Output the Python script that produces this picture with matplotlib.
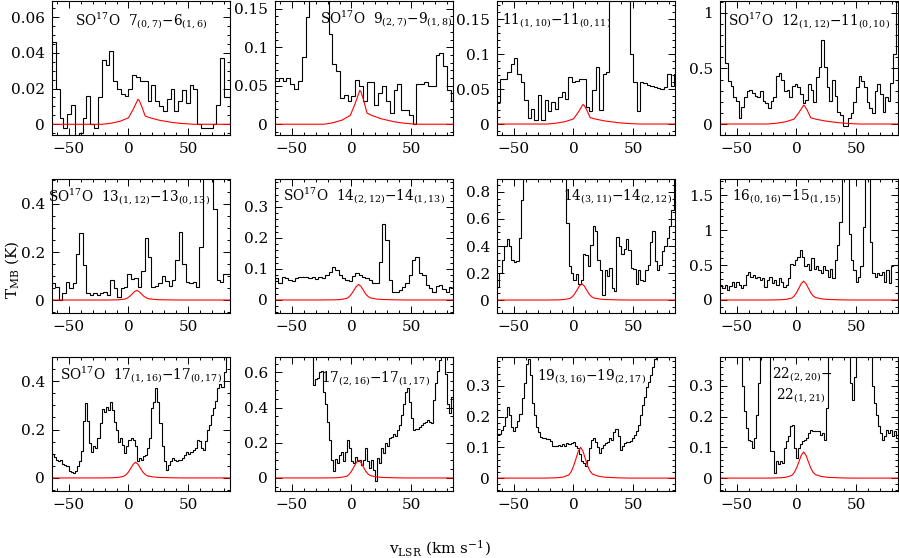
import numpy as np
import matplotlib
matplotlib.use("Agg")
import matplotlib.pyplot as plt
from matplotlib.ticker import MultipleLocator, AutoMinorLocator, FuncFormatter

plt.rcParams["font.family"] = "DejaVu Serif"
plt.rcParams["mathtext.fontset"] = "dejavuserif"

XLIM = (-64, 85)

# observed spectra: first channel edge, channel width (km/s), T_MB per channel (K)
p1_v0, p1_dv = -64, 3.2
p1_t = [0.046, 0.02, 0.0036, -0.002, 0.0055, 0.011, -0.007, -0.005, 0.0036, 0.016,
        0.0, -0.002, 0.015, 0.036, 0.033, 0.041, 0.024, 0.02, 0.017, 0.016,
        0.02, 0.0275, 0.0265, 0.0245, 0.0245, 0.013, 0.022, 0.013, 0.010, 0.0074,
        0.014, 0.02, 0.0074, 0.013, 0.019, 0.012, 0.022, 0.02, 0.0, -0.002,
        -0.002, -0.002, 0.0, 0.011, 0.037, 0.015, 0.015]

p2_v0, p2_dv = -64, 3.2
p2_t = [0.056, 0.06, 0.056, 0.06, 0.052, 0.046, 0.056, 0.087, 0.139, 0.2,
        0.2, 0.2, 0.2, 0.2, 0.117, 0.078, 0.069, 0.034, 0.038, 0.03,
        0.036, 0.058, 0.05, 0.03, 0.055, 0.055, 0.025, 0.04, 0.05, 0.03,
        0.015, 0.045, 0.052, 0.018, 0.018, 0.012, 0.0, 0.052, 0.052, 0.055,
        0.05, 0.05, 0.09, 0.093, 0.075, 0.045, 0.03]

p3_v0, p3_dv = -64, 2.85
p3_t = [0.032, 0.064, 0.065, 0.074, 0.086, 0.095, 0.071, 0.06, 0.034, 0.008,
        0.022, 0.006, 0.041, 0.006, 0.034, 0.018, 0.032, 0.022, 0.039, 0.046,
        0.036, 0.067, 0.06, 0.062, 0.065, 0.065, 0.025, 0.018, 0.048, 0.081,
        0.02, 0.071, 0.074, 0.2, 0.2, 0.2, 0.2, 0.2, 0.2, 0.1,
        0.06, 0.018, 0.06, 0.058, 0.056, 0.055, 0.053, 0.052, 0.05, 0.053,
        0.071, 0.055, 0.071]

p4_v0, p4_dv = -64, 2.23
p4_t = [1.3, 1.3, 0.55, 0.39, 0.34, 0.24, 0.21, 0.05, 0.15, 0.24,
        0.3, 0.31, 0.28, 0.25, 0.24, 0.3, 0.21, 0.19, 0.145, 0.21,
        0.24, 0.43, 0.46, 0.4, 0.3, 0.31, 0.24, 0.34, 0.36, 0.33,
        0.27, 0.19, 0.22, 0.36, 0.31, 0.2, 0.42, 0.51, 0.76, 0.51,
        0.33, 0.21, 0.4, 0.25, 0.11, 0.085, -0.02, -0.02, 0.05, 0.1,
        0.2, 0.33, 0.43, 0.39, 0.33, 0.2, 0.145, 0.1, 0.3, 0.36,
        0.27, 0.11, 0.24, 0.21, 0.37, 0.63, 1.3]

p5_v0, p5_dv = -64, 2.87
p5_t = [0.07, 0.056, 0.0, 0.03, 0.077, 0.05, 0.07, 0.19, 0.28, 0.146,
        0.03, 0.02, 0.03, 0.02, 0.03, 0.035, 0.02, 0.083, 0.05, 0.014,
        0.05, 0.056, 0.11, 0.086, 0.09, 0.056, 0.12, 0.26, 0.18, 0.056,
        0.06, 0.07, 0.1, 0.08, 0.06, 0.083, 0.167, 0.285, 0.15, 0.077,
        0.07, 0.077, 0.056, 0.22, 0.6, 0.6, 0.6, 0.38, 0.083, 0.077,
        0.11, 0.11]

p6_v0, p6_dv = -64, 2.8
p6_t = [0.07, 0.054, 0.075, 0.07, 0.065, 0.06, 0.07, 0.075, 0.075, 0.073,
        0.07, 0.073, 0.067, 0.073, 0.07, 0.08, 0.09, 0.105, 0.097, 0.08,
        0.07, 0.065, 0.06, 0.078, 0.086, 0.08, 0.075, 0.07, 0.065, 0.056,
        0.054, 0.124, 0.246, 0.194, 0.065, 0.027, 0.027, 0.032, 0.043, 0.054,
        0.08, 0.13, 0.138, 0.086, 0.08, 0.049, 0.038, 0.027, 0.045, 0.049,
        0.035, 0.027, 0.043]

p7_v0, p7_dv = -64, 2.0
p7_t = [0.1, 0.2, 0.3, 0.4, 0.45, 0.4, 0.3, 0.28, 0.29, 0.46,
        0.74, 1.0, 1.0, 1.0, 1.0, 1.0, 1.0, 1.0, 1.0, 1.0,
        1.0, 1.0, 1.0, 1.0, 1.0, 1.0, 1.0, 1.0, 1.0, 0.57,
        0.25, 0.2, 0.15, 0.19, 0.115, 0.15, 0.34, 0.33, 0.25, 0.41,
        0.55, 0.51, 0.3, 0.225, 0.04, 0.225, 0.18, 0.24, 0.09, 0.066,
        0.47, 0.4, 0.34, 0.38, 0.45, 0.37, 0.24, 0.23, 0.115, 0.225,
        0.15, 0.14, 0.225, 0.26, 0.43, 0.51, 0.29, 0.225, 0.26, 0.36,
        0.4, 0.46, 0.55, 0.67, 0.95]

p8_v0, p8_dv = -64, 1.96
p8_t = [0.21, 0.17, 0.21, 0.14, 0.2, 0.26, 0.19, 0.26, 0.21, 0.17,
        0.21, 0.36, 0.4, 0.33, 0.36, 0.31, 0.33, 0.29, 0.31, 0.19,
        0.29, 0.33, 0.24, 0.29, 0.21, 0.31, 0.26, 0.19, 0.21, 0.31,
        0.52, 0.5, 0.57, 0.62, 0.72, 0.62, 0.48, 0.52, 0.43, 0.6,
        0.45, 0.48, 0.43, 0.38, 0.48, 0.43, 0.33, 0.45, 0.31, 0.57,
        0.79, 1.12, 1.9, 1.9, 1.9, 0.95, 0.57, 0.43, 0.26, 0.33,
        0.48, 1.05, 1.9, 1.9, 0.83, 0.38, 0.33, 0.38, 0.36, 0.4,
        0.26, 0.43, 0.24, 0.48, 0.5, 0.5]

p9_v0, p9_dv = -64, 1.73
p9_t = [0.1, 0.085, 0.075, 0.07, 0.075, 0.058, 0.055, 0.048, 0.03, 0.025,
        0.02, 0.027, 0.048, 0.07, 0.11, 0.235, 0.31, 0.235, 0.145, 0.107,
        0.13, 0.123, 0.164, 0.226, 0.285, 0.274, 0.295, 0.281, 0.315, 0.281,
        0.233, 0.2, 0.15, 0.164, 0.137, 0.103, 0.13, 0.158, 0.164, 0.158,
        0.134, 0.07, 0.082, 0.075, 0.089, 0.096, 0.123, 0.167, 0.29, 0.315,
        0.37, 0.315, 0.226, 0.13, 0.07, 0.034, 0.055, 0.07, 0.082, 0.075,
        0.07, 0.073, 0.075, 0.082, 0.096, 0.107, 0.099, 0.107, 0.116, 0.123,
        0.158, 0.153, 0.123, 0.116, 0.153, 0.2, 0.22, 0.26, 0.29, 0.32,
        0.37, 0.39, 0.377, 0.44, 0.5, 0.52]

p10_v0, p10_dv = -64, 1.67
p10_t = [0.8] * 19 + [
    0.53, 0.56, 0.57, 0.6, 0.61, 0.49, 0.42, 0.32, 0.215, 0.1,
    0.037, 0.11, 0.084, 0.13, 0.15, 0.094, 0.15, 0.215, 0.17, 0.094,
    0.084, 0.12, 0.094, 0.1, 0.075, 0.1, 0.17, 0.094, 0.056, 0.1,
    0.047, -0.02, 0.112, 0.084, 0.17, 0.14, 0.2, 0.18, 0.225, 0.235,
    0.25, 0.24, 0.27, 0.3, 0.355, 0.42, 0.49, 0.51, 0.43, 0.34,
    0.27, 0.28, 0.28, 0.29, 0.3, 0.31, 0.32, 0.33, 0.32, 0.31,
    0.44, 0.54, 0.61, 0.67, 0.8, 0.8, 0.59, 0.42, 0.37, 0.46]

p11_v0, p11_dv = -64, 1.71
p11_t = [0.142, 0.145, 0.156, 0.17, 0.2, 0.23, 0.205, 0.167, 0.153, 0.165,
         0.186, 0.21, 0.26, 0.31, 0.37, 0.386, 0.334, 0.243, 0.205, 0.167,
         0.15, 0.135, 0.131, 0.13, 0.128, 0.128, 0.121, 0.103, 0.106, 0.103,
         0.108, 0.106, 0.11, 0.106, 0.113, 0.11, 0.113, 0.119, 0.103, 0.097,
         0.078, 0.054, 0.048, 0.04, 0.059, 0.097, 0.124, 0.13, 0.117, 0.1,
         0.081, 0.097, 0.108, 0.113, 0.119, 0.131, 0.124, 0.151, 0.16, 0.138,
         0.092, 0.103, 0.113, 0.119, 0.119, 0.121, 0.131, 0.14, 0.153, 0.173,
         0.205, 0.237, 0.264, 0.297, 0.313, 0.334, 0.361, 0.388, 0.42, 0.42,
         0.42, 0.42, 0.42, 0.42, 0.42, 0.42, 0.42]

p12_v0, p12_dv = -64, 1.674
p12_t = [0.45] * 11 + [0.3, 0.217, 0.163, 0.125, 0.12, 0.099, 0.13, 0.206, 0.31] + [0.45] * 5 + [
    0.088, 0.088, 0.018, 0.056, 0.045, 0.056, 0.05, 0.099, 0.12, 0.136,
    0.168, 0.174, 0.099, 0.066, 0.099, 0.11, 0.12, 0.125, 0.132, 0.147,
    0.158, 0.154, 0.152, 0.154, 0.152, 0.14, 0.147, 0.125, 0.227, 0.4] + [0.45] * 10 + [
    0.31, 0.254, 0.33] + [0.45] * 8 + [
    0.3, 0.243, 0.206, 0.168, 0.147, 0.125, 0.136, 0.158, 0.147, 0.158, 0.136, 0.152, 0.13]

# model profiles (red): offset from line centre (km/s) and normalised shape
wing_dv = [-90, -30, -23, -15, -8, -4, -2, 0, 1, 3, 6, 10, 18, 29, 37, 47, 90]
wing_shape = [0, 0, 0.04, 0.12, 0.26, 0.6, 0.8, 1.0, 0.95, 0.73, 0.33, 0.26, 0.16, 0.07, 0.03, 0, 0]
narrow_dv = [-90, -30, -20, -15, -10, -8, -6, -4, -2, 0, 2, 4, 6, 8, 10, 15, 20, 30, 40, 90]
narrow_shape = [0, 0, 0.01, 0.03, 0.1, 0.2, 0.38, 0.62, 0.87, 1.0, 0.87, 0.62, 0.38, 0.22, 0.13, 0.06, 0.03, 0.01, 0, 0]
model_vc = [8, 7, 8, 6, 7, 6, 7, 6, 6, 6, 6, 6]
model_peak = [0.014, 0.044, 0.028, 0.17, 0.04, 0.05, 0.12, 0.27, 0.065, 0.10, 0.10, 0.085]

labels = [
    r"SO$^{17}$O  7$_{(0,7)}$$-$6$_{(1,6)}$",
    r"SO$^{17}$O  9$_{(2,7)}$$-$9$_{(1,8)}$",
    r"11$_{(1,10)}$$-$11$_{(0,11)}$",
    r"SO$^{17}$O  12$_{(1,12)}$$-$11$_{(0,10)}$",
    r"SO$^{17}$O  13$_{(1,12)}$$-$13$_{(0,13)}$",
    r"SO$^{17}$O  14$_{(2,12)}$$-$14$_{(1,13)}$",
    r"14$_{(3,11)}$$-$14$_{(2,12)}$",
    r"16$_{(0,16)}$$-$15$_{(1,15)}$",
    r"SO$^{17}$O  17$_{(1,16)}$$-$17$_{(0,17)}$",
    r"17$_{(2,16)}$$-$17$_{(1,17)}$",
    r"19$_{(3,16)}$$-$19$_{(2,17)}$",
    "22$_{(2,20)}$$-$\n 22$_{(1,21)}$",
]
ylims = [(-0.006, 0.069), (-0.014, 0.160), (-0.0157, 0.176), (-0.099, 1.108),
         (-0.054, 0.504), (-0.042, 0.39), (-0.096, 0.896), (-0.186, 1.73),
         (-0.054, 0.50), (-0.074, 0.687), (-0.042, 0.394), (-0.042, 0.394)]
ymajor = [0.02, 0.05, 0.05, 0.5, 0.2, 0.1, 0.2, 0.5, 0.2, 0.2, 0.1, 0.1]

spectra = [(p1_v0, p1_dv, p1_t), (p2_v0, p2_dv, p2_t), (p3_v0, p3_dv, p3_t),
           (p4_v0, p4_dv, p4_t), (p5_v0, p5_dv, p5_t), (p6_v0, p6_dv, p6_t),
           (p7_v0, p7_dv, p7_t), (p8_v0, p8_dv, p8_t), (p9_v0, p9_dv, p9_t),
           (p10_v0, p10_dv, p10_t), (p11_v0, p11_dv, p11_t), (p12_v0, p12_dv, p12_t)]

# label anchor (axes fraction)
label_pos = [(0.13, 0.85), (0.255, 0.865), (0.03, 0.85), (0.045, 0.85),
             (-0.02, 0.865), (0.045, 0.875), (0.37, 0.865), (0.07, 0.865),
             (0.045, 0.865), (0.26, 0.84), (0.225, 0.85), (0.29, 0.79)]

W, H = 899, 558
fig = plt.figure(figsize=(W / 100, H / 100), dpi=100)
col_left = [52, 275, 497, 720]
row_top = [1, 179, 357]
aw, ah = 178, 134

fmt = FuncFormatter(lambda v, p: f"{v:g}".replace("-", "\u2212"))

for i in range(12):
    r, c = divmod(i, 4)
    ax = fig.add_axes([col_left[c] / W, 1 - (row_top[r] + ah) / H, aw / W, ah / H])
    v0, dv, t = spectra[i]
    edges = v0 + dv * np.arange(len(t) + 1)
    ax.stairs(t, edges, baseline=None, color="black", lw=0.8)

    if r == 0:
        mv, ms = wing_dv, wing_shape
    else:
        mv, ms = narrow_dv, narrow_shape
    ax.plot(np.array(mv) + model_vc[i], np.array(ms) * model_peak[i], color="red", lw=0.8)

    ax.set_xlim(*XLIM)
    ax.set_ylim(*ylims[i])
    ax.xaxis.set_major_locator(MultipleLocator(50))
    ax.xaxis.set_minor_locator(MultipleLocator(10))
    ax.yaxis.set_major_locator(MultipleLocator(ymajor[i]))
    ax.yaxis.set_minor_locator(AutoMinorLocator())
    ax.yaxis.set_major_formatter(fmt)
    ax.tick_params(which="both", direction="in", top=True, right=True, labelsize=11)
    ax.tick_params(which="major", length=5, width=0.7)
    ax.tick_params(which="minor", length=2.5, width=0.7)
    ax.tick_params(axis="y", pad=5)
    ax.tick_params(axis="x", pad=5)
    for s in ax.spines.values():
        s.set_linewidth(0.8)

    lx, ly = label_pos[i]
    ax.text(lx, ly, labels[i], transform=ax.transAxes, fontsize=9.8,
            ha="left", va="center", clip_on=False)

fig.text(440 / W, 1 - 548 / H, r"v$_{\rm LSR}$ (km s$^{-1}$)", ha="center", va="center", fontsize=11)
fig.text(12 / W, 1 - 270 / H, r"T$_{\rm MB}$ (K)", ha="center", va="center", rotation=90, fontsize=11)

fig.savefig("out.png", dpi=100)
